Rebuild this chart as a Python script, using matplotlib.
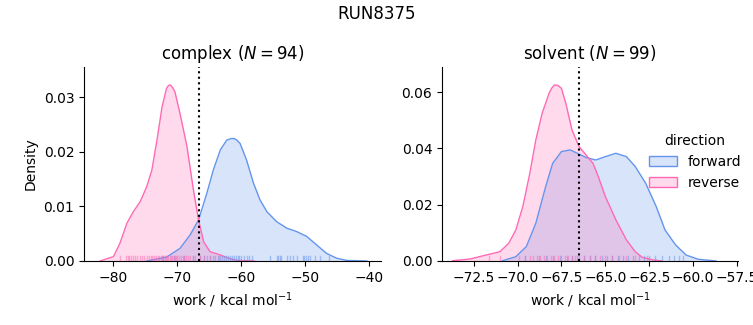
import matplotlib
matplotlib.use("Agg")
import matplotlib.pyplot as plt
from matplotlib.patches import Patch

# ---- data ----
suptitle = "RUN8375"
phases = ["complex", "solvent"]
n_samples = [94, 99]
dg_lines = [-66.7, -66.5]

# complex: density curves
cx_rev_x = [-82.1, -80.0, -79.0, -77.9, -76.9, -75.8, -74.8, -74.0, -73.2, -72.4, -71.7, -71.4, -71.1,
            -70.8, -70.4, -69.6, -68.5, -67.5, -66.7, -65.9, -64.9, -63.3, -62.0, -60.7, -58.0]
cx_rev_y = [0.0, 0.0008, 0.0032, 0.0069, 0.0090, 0.0109, 0.0136, 0.0166, 0.0221, 0.0282, 0.0316, 0.0321, 0.0322,
            0.0318, 0.0310, 0.0270, 0.0209, 0.0130, 0.0075, 0.0035, 0.0017, 0.0011, 0.0005, 0.0001, 0.0]
cx_fwd_x = [-74.8, -71.7, -69.6, -68.0, -66.7, -65.4, -64.4, -63.3, -62.3, -61.6, -61.1, -60.7, -60.2, -59.2,
            -58.1, -57.1, -56.0, -54.5, -52.9, -51.4, -49.8, -48.2, -46.7, -45.1, -43.5, -40.4]
cx_fwd_y = [0.0, 0.0007, 0.0023, 0.0048, 0.0075, 0.0124, 0.0166, 0.0203, 0.0221, 0.0224, 0.0224, 0.0221, 0.0215, 0.0185,
            0.0142, 0.0112, 0.0090, 0.0072, 0.0060, 0.0054, 0.0045, 0.0029, 0.0014, 0.0005, 0.0001, 0.0]

# solvent: density curves
sv_rev_x = [-73.7, -72.7, -71.8, -71.0, -70.5, -70.1, -69.7, -69.3, -68.96, -68.6, -68.2, -68.05, -67.9,
            -67.7, -67.5, -67.25, -66.9, -66.5, -66.1, -65.7, -65.4, -65.0, -64.4, -63.8, -63.3, -62.9,
            -62.3, -61.8]
sv_rev_y = [0.0001, 0.0007, 0.0021, 0.0033, 0.0063, 0.0110, 0.0193, 0.0312, 0.0430, 0.0525, 0.0597, 0.0615, 0.0626,
            0.0624, 0.0614, 0.0561, 0.0466, 0.0407, 0.0377, 0.0347, 0.0300, 0.0229, 0.0146, 0.0075, 0.0033, 0.0013,
            0.0004, 0.0]
sv_fwd_x = [-70.85, -70.1, -69.5, -68.96, -68.4, -68.0, -67.5, -67.0, -66.6, -66.1, -65.55, -65.0,
            -64.4, -63.8, -63.3, -62.7, -62.1, -61.6, -61.0, -60.4, -59.7, -58.7]
sv_fwd_y = [0.0001, 0.0015, 0.0051, 0.0134, 0.0264, 0.0347, 0.0389, 0.0395, 0.0383, 0.0368, 0.0359, 0.0371,
            0.0383, 0.0371, 0.0336, 0.0276, 0.0193, 0.0110, 0.0057, 0.0021, 0.0006, 0.0]

# rug samples
cx_rev_rug = [-79.0, -78.1, -77.8, -77.5, -77.2, -76.9, -76.6, -76.3, -75.9, -75.5, -75.2, -74.8,
              -74.5, -74.2, -73.9, -73.6, -73.4, -73.1, -72.9, -72.6, -72.4, -72.2, -72.0, -71.8,
              -71.6, -71.4, -71.2, -71.0, -70.8, -70.6, -70.4, -70.2, -70.0, -69.8, -69.5, -69.2,
              -68.9, -68.6, -68.3, -68.0, -67.6, -67.2, -66.5, -65.8, -64.9, -63.5]
cx_fwd_rug = [-72.2, -70.5, -69.0, -67.5, -66.4, -65.8, -65.3, -64.9, -64.5, -64.1, -63.7, -63.3,
              -63.0, -62.7, -62.4, -62.1, -61.8, -61.5, -61.2, -60.9, -60.6, -60.3, -60.0, -59.6,
              -59.2, -58.8, -58.4, -55.5, -54.5, -54.2, -53.95, -53.8, -52.9, -52.4, -51.9, -51.3,
              -50.4, -50.2, -49.9, -49.6, -49.3, -48.5, -47.7, -46.25]
sv_rev_rug = [-71.65, -71.0, -69.9, -69.6, -69.3, -69.1, -68.9, -68.7, -68.5, -68.3, -68.1, -67.9,
              -67.7, -67.5, -67.3, -67.1, -66.9, -66.7, -66.5, -66.2, -65.9, -65.6, -65.3, -65.0,
              -64.6, -64.2, -63.8, -63.3, -62.6]
sv_fwd_rug = [-69.6, -68.8, -68.4, -68.0, -67.6, -67.2, -66.9, -66.6, -66.2, -65.9, -65.6, -65.2,
              -64.9, -64.6, -64.3, -64.0, -63.7, -63.4, -63.1, -62.8, -62.5, -62.2, -61.8, -61.4,
              -61.1, -60.8, -60.6]

directions = ["forward", "reverse"]
colors = {"forward": "#6495ED", "reverse": "#FF69B4"}

curves = [
    {"forward": (cx_fwd_x, cx_fwd_y), "reverse": (cx_rev_x, cx_rev_y)},
    {"forward": (sv_fwd_x, sv_fwd_y), "reverse": (sv_rev_x, sv_rev_y)},
]
rugs = [
    {"forward": cx_fwd_rug, "reverse": cx_rev_rug},
    {"forward": sv_fwd_rug, "reverse": sv_rev_rug},
]

xlims = [(-84.6, -38.1), (-74.3, -57.45)]
ylims = [(0, 0.0355), (0, 0.069)]
xticks = [[-80, -70, -60, -50, -40], [-72.5, -70.0, -67.5, -65.0, -62.5, -60.0, -57.5]]
yticks = [[0.0, 0.01, 0.02, 0.03], [0.0, 0.02, 0.04, 0.06]]

fig = plt.figure(figsize=(7.53, 3.25), dpi=100)
axes = [fig.add_axes([0.1116, 0.197, 0.395, 0.597]),
        fig.add_axes([0.587, 0.197, 0.393, 0.597])]

for i, ax in enumerate(axes):
    for d in directions:
        x, y = curves[i][d]
        ax.fill_between(x, 0, y, color=colors[d], alpha=0.25, lw=0)
        ax.plot(x, y, color=colors[d], lw=1)
    for d in directions:
        for v in rugs[i][d]:
            ax.axvline(v, ymin=0, ymax=0.025, color=colors[d], lw=1, alpha=0.5)
    ax.axvline(dg_lines[i], color="black", ls=":", lw=1.5)
    ax.set_xlim(*xlims[i])
    ax.set_ylim(*ylims[i])
    ax.set_xticks(xticks[i])
    ax.set_yticks(yticks[i])
    if i == 1:
        ax.set_xticklabels([f"{t:.1f}".replace("-", "\u2212") for t in xticks[i]])
    ax.set_yticklabels([f"{t:.2f}" for t in yticks[i]])
    ax.spines["top"].set_visible(False)
    ax.spines["right"].set_visible(False)
    ax.set_title(f"{phases[i]} ($N = {n_samples[i]}$)", fontsize=12)
    ax.set_xlabel("work / kcal mol$^{-1}$")
    ax.tick_params(labelsize=10)

axes[0].set_ylabel("Density")

fig.suptitle(suptitle, fontsize=12, y=0.985)

handles = [Patch(facecolor=(*matplotlib.colors.to_rgb(colors[d]), 0.25),
                 edgecolor=colors[d], lw=1) for d in directions]
leg = fig.legend(handles, directions, title="direction", loc="center left",
                 bbox_to_anchor=(0.845, 0.501), frameon=False, fontsize=10, title_fontsize=10)

fig.savefig("out.png", dpi=100)
